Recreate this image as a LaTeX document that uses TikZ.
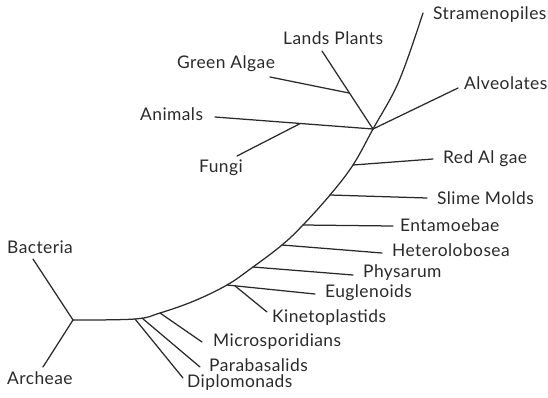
\documentclass[tikz,border=0pt]{standalone}
\usepackage{fontspec}
\setmainfont{Lato}[LetterSpace=2.5]
\usetikzlibrary{calc}
\definecolor{ink}{HTML}{2A2A2A}

\begin{document}
\begin{tikzpicture}[
  x=1pt, y=-1pt,
  font=\fontsize{17.4}{19}\selectfont, text=ink,
  br/.style={draw=ink, line width=1.25pt, line cap=round},
  lbl/.style={anchor=west, inner sep=0pt, text=ink}
]
\useasboundingbox (0,0) rectangle (548,397);

% ---- points on the backbone
\coordinate (root) at (73,320);
\coordinate (dip) at (135,319);
\coordinate (par) at (142,318);
\coordinate (mic) at (160,313);
\coordinate (bend) at (194,301);
\coordinate (eug) at (227,285);
\coordinate (phy) at (253,267);
\coordinate (het) at (282,245);
\coordinate (ent) at (303,225);
\coordinate (sli) at (330,195);
\coordinate (red) at (353,165);
\coordinate (hub) at (373,129);
\coordinate (upr) at (399,81);
\coordinate (str) at (423,13);

\draw[br] plot[smooth, tension=0.6] coordinates {(root) (dip) (mic) (bend) (eug) (phy) (het) (ent) (sli) (red) (hub) (upr) (str)};

% ---- leaf labels
\node[lbl] (tBac) at (7,247) {Bacteria};
\node[lbl] (tArc) at (7,378) {Archeae};
\node[lbl] (tDip) at (187,383) {Diplomonads};
\node[lbl] (tPar) at (209,365) {Parabasalids};
\node[lbl] (tMic) at (213,342) {Microsporidians};
\node[lbl] (tKin) at (272,318) {Kinetoplastids};
\node[lbl] (tEug) at (325,293) {Euglenoids};
\node[lbl] (tPhy) at (363,273) {Physarum};
\node[lbl] (tHet) at (392,250) {Heterolobosea};
\node[lbl] (tEnt) at (400,225) {Entamoebae};
\node[lbl] (tSli) at (437,198) {Slime Molds};
\node[lbl] (tRed) at (443,159) {Red Al gae};
\node[lbl] (tAlv) at (464,83) {Alveolates};
\node[lbl] (tStr) at (433,15) {Stramenopiles};
\node[lbl] (tLan) at (283,38) {Lands Plants};
\node[lbl] (tGre) at (177,64) {Green Algae};
\node[lbl] (tAni) at (140,114) {Animals};
\node[lbl] (tFun) at (199,168) {Fungi};

% ---- leaf ends
\coordinate (eBac) at (33,259);
\coordinate (eArc) at (43,367);
\coordinate (eDip) at (183,378);
\coordinate (ePar) at (200,367);
\coordinate (eMic) at (202,342);
\coordinate (eKin) at (267,312);
\coordinate (eEug) at (315,294);
\coordinate (ePhy) at (353,275);
\coordinate (eHet) at (382,253);
\coordinate (eEnt) at (393,226);
\coordinate (eSli) at (427,198);
\coordinate (eRed) at (433,159);
\coordinate (eAlv) at (458,88);
\coordinate (eLan) at (322,51);
\coordinate (eGre) at (270,77);
\coordinate (eAni) at (215,117);
\coordinate (eFun) at (237,156);

% ---- side forks
\coordinate (kin) at ($(eug)!0.09!(eEug)$);
\coordinate (gre) at ($(hub)!0.46!(eLan)$);
\coordinate (fun) at ($(hub)!0.46!(eAni)$);

\foreach \a/\b in {root/eBac, root/eArc, dip/eDip, par/ePar, mic/eMic, kin/eKin,
  eug/eEug, phy/ePhy, het/eHet, ent/eEnt, sli/eSli, red/eRed, hub/eAlv,
  hub/eLan, gre/eGre, hub/eAni, fun/eFun}
  \draw[br] (\a) -- (\b);
\end{tikzpicture}
\end{document}
